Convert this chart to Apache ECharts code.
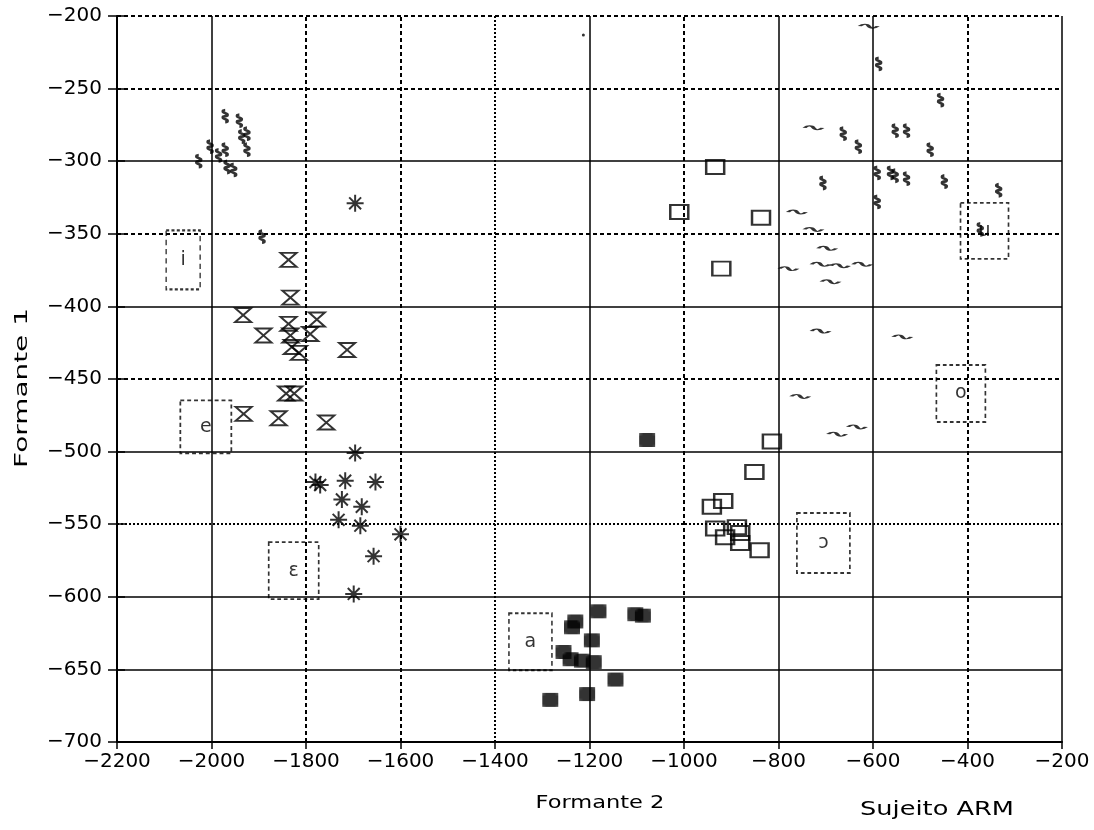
<!DOCTYPE html>
<html>
<head>
<meta charset="utf-8">
<script src="https://cdn.jsdelivr.net/npm/echarts@6/dist/echarts.min.js"></script>
<style>
html,body{margin:0;padding:0;background:#fff;}
#chart{width:1094px;height:830px;}
</style>
</head>
<body>
<div id="chart"></div>
<script>
// ---- tick values ----
var xTicks = [-2200,-2000,-1800,-1600,-1400,-1200,-1000,-800,-600,-400,-200];
var yTicks = [-700,-650,-600,-550,-500,-450,-400,-350,-300,-250,-200];

// ---- vowel /i/ (squiggles, left) ----
var iF2 = [-1971,-1941,-1936,-1925,-1925,-1971,-1985,-2003,-2027,-1967,-1953,-1893];
var iF1 = [-269,-272,-283,-281,-292,-292,-296,-290,-300,-304,-306,-352];
// ---- vowel /e/ (hourglasses) ----
var eF2 = [-1837,-1833,-1933,-1890,-1837,-1833,-1830,-1791,-1777,-1713,-1842,-1825,-1932,-1858,-1757,-1815];
var eF1 = [-368,-394,-406,-420,-412,-420,-428,-419,-409,-430,-460,-460,-474,-477,-480,-432];
// ---- vowel /ɛ/ (asterisks) ----
var epsF2 = [-1696,-1696,-1780,-1770,-1717,-1653,-1724,-1682,-1731,-1685,-1600,-1657,-1699];
var epsF1 = [-329,-501,-521,-523,-520,-521,-533,-538,-547,-551,-557,-572,-598];
// ---- vowel /a/ (hatched squares) ----
var aF2 = [-1181,-1103,-1087,-1230,-1237,-1195,-1255,-1240,-1216,-1191,-1145,-1205,-1283,-1078];
var aF1 = [-610,-612,-613,-617,-621,-630,-638,-643,-644,-645,-657,-667,-671,-492];
// ---- vowel /ɔ/ (open squares) ----
var oOpenF2 = [-934,-1010,-837,-921,-814,-851,-941,-917,-934,-888,-881,-913,-881,-840];
var oOpenF1 = [-304,-335,-339,-374,-493,-514,-538,-534,-553,-552,-556,-559,-563,-568];
// ---- vowel /o/ (tildes) ----
var oF2 = [-609,-726,-761,-726,-697,-779,-711,-670,-623,-690,-711,-538,-754,-676,-634];
var oF1 = [-207,-277,-335,-347,-360,-374,-371,-372,-371,-383,-417,-421,-462,-488,-483];
// ---- vowel /u/ (squiggles, right) ----
var uF2 = [-588,-457,-663,-553,-529,-631,-479,-591,-563,-553,-529,-449,-706,-591,-334,-373];
var uF1 = [-233,-258,-281,-279,-279,-290,-292,-308,-308,-310,-312,-314,-315,-328,-320,-347];
// ---- stray dot ----
var dotF2 = [-1213];
var dotF1 = [-213];
// ---- vowel label boxes (centres) ----
var boxVowels = ['i','e','ɛ','a','ɔ','o','u'];
var boxF2 = [-2060,-2012,-1826,-1325,-705,-414,-364];
var boxF1 = [-368,-483,-582,-631,-563,-460,-348];

// ---- styles (kept apart from data) ----
var boxSizes = [[34,59],[51,53],[50,57],[43,57],[53,60],[49,57],[48,56]];
var xGridType = {'-2000':'solid','-1800':'dashed','-1600':'dashed','-1400':'dotted','-1200':'solid','-1000':'dashed','-800':'solid','-600':'solid','-400':'dashed','-200':'solid'};
var yGridType = {'-650':'solid','-600':'solid','-550':'dotted','-500':'solid','-450':'dashed','-400':'solid','-350':'dashed','-300':'solid','-250':'dashed','-200':'dashed'};

function zip(a,b){ return a.map(function(v,i){ return [v,b[i]]; }); }
function minus(v){ return String(v).replace('-', '\u2212'); }

var pat = document.createElement('canvas');
pat.width = 3; pat.height = 3;
var pc = pat.getContext('2d');
pc.fillStyle = '#000'; pc.fillRect(0,0,3,3);
pc.fillStyle = '#fff'; pc.fillRect(1,1,1,1);

var stroke = {color:'rgba(0,0,0,0)', borderColor:'#000', borderWidth:2};
var FONT = 'DejaVu Sans';

var gridLines = [];
xTicks.forEach(function(v){
  if (xGridType[v]) gridLines.push({xAxis:v, lineStyle:{type:xGridType[v]==='dashed'?[4,3]:xGridType[v], color:'#000', width:xGridType[v]==='solid'?1.5:2}});
});
yTicks.forEach(function(v){
  if (yGridType[v]) gridLines.push({yAxis:v, lineStyle:{type:yGridType[v]==='dashed'?[4,3]:yGridType[v], color:'#000', width:yGridType[v]==='solid'?1.5:2}});
});

var chart = echarts.init(document.getElementById('chart'), null, {renderer:'canvas'});
chart.setOption({
  backgroundColor:'#fff',
  animation:false,
  grid:{left:117, top:16, right:32, bottom:88},
  xAxis:{
    type:'value', min:xTicks[0], max:xTicks[xTicks.length-1], interval:200,
    axisLine:{show:true, onZero:false, lineStyle:{color:'#000', width:2}},
    axisTick:{show:true, length:7, lineStyle:{color:'#000', width:1.5}},
    axisLabel:{color:'#000', fontFamily:FONT, fontSize:20, margin:10, formatter:minus},
    splitLine:{show:false}
  },
  yAxis:[{
    type:'value', min:yTicks[0], max:yTicks[yTicks.length-1], interval:50,
    axisLine:{show:true, onZero:false, lineStyle:{color:'#000', width:2}},
    axisTick:{show:true, length:9, lineStyle:{color:'#000', width:1.5}},
    axisLabel:{color:'#000', fontFamily:FONT, fontSize:20, margin:15, formatter:minus},
    splitLine:{show:false}
  },{
    type:'value', position:'left', min:yTicks[0], max:yTicks[yTicks.length-1], interval:50,
    axisLine:{show:false},
    axisTick:{show:true, inside:true, length:8, lineStyle:{color:'#000', width:1.5}},
    axisLabel:{show:false}, splitLine:{show:false}
  }],
  graphic:[
    {type:'text', x:600, y:803, scaleX:1.25, style:{text:'Formante 2', fontFamily:FONT, fontSize:18, fill:'#000', align:'center', verticalAlign:'middle'}},
    {type:'text', x:937, y:810, scaleX:1.35, style:{text:'Sujeito ARM', fontFamily:FONT, fontSize:19, fill:'#000', align:'center', verticalAlign:'middle'}},
    {type:'text', x:22, y:388, rotation:Math.PI/2, scaleX:1.55, style:{text:'Formante 1', fontFamily:FONT, fontSize:18, fill:'#000', align:'center', verticalAlign:'middle'}}
  ],
  series:[
    {type:'scatter', name:'grid', data:[], silent:true,
     markLine:{silent:true, symbol:['none','none'], label:{show:false}, data:gridLines, animation:false}},
    {type:'scatter', name:'i', data:zip(iF2,iF1), symbol:'path://M3,0 C0,2 6,4 3,6 C0,8 6,10 3,12', symbolSize:[6,12], itemStyle:stroke},
    {type:'scatter', name:'e', data:zip(eF2,eF1), symbol:'path://M0,0 L10,0 L0,12 L10,12 Z', symbolSize:[16,14], itemStyle:stroke},
    {type:'scatter', name:'ɛ', data:zip(epsF2,epsF1), symbol:'path://M0,5 L10,5 M5,0 L5,10 M1.5,1.5 L8.5,8.5 M8.5,1.5 L1.5,8.5', symbolSize:17, itemStyle:stroke},
    {type:'scatter', name:'a', data:zip(aF2,aF1), symbol:'rect', symbolSize:[16,14], itemStyle:{color:{image:pat, repeat:'repeat'}}},
    {type:'scatter', name:'ɔ', data:zip(oOpenF2,oOpenF1), symbol:'rect', symbolSize:[18,14], itemStyle:{color:'rgba(0,0,0,0)', borderColor:'#000', borderWidth:2.2}},
    {type:'scatter', name:'o', data:zip(oF2,oF1), symbol:'path://M0,3 C2,0 4,0 5,3 C6,6 8,6 10,3', symbolSize:[18,4], itemStyle:stroke},
    {type:'scatter', name:'u', data:zip(uF2,uF1), symbol:'path://M3,0 C0,2 6,4 3,6 C0,8 6,10 3,12', symbolSize:[6,12], itemStyle:stroke},
    {type:'scatter', name:'dot', data:zip(dotF2,dotF1), symbol:'circle', symbolSize:3, itemStyle:{color:'#000'}},
    {type:'scatter', name:'boxes', z:1,
     data:boxVowels.map(function(v,i){ return {value:[boxF2[i], boxF1[i]], name:v, symbolSize:boxSizes[i]}; }),
     symbol:'rect',
     itemStyle:{color:'rgba(0,0,0,0)', borderColor:'#000', borderWidth:1.8, borderType:[4,3]},
     label:{show:true, position:'inside', formatter:'{b}', color:'#000', fontFamily:FONT, fontSize:19}}
  ]
});
</script>
</body>
</html>
